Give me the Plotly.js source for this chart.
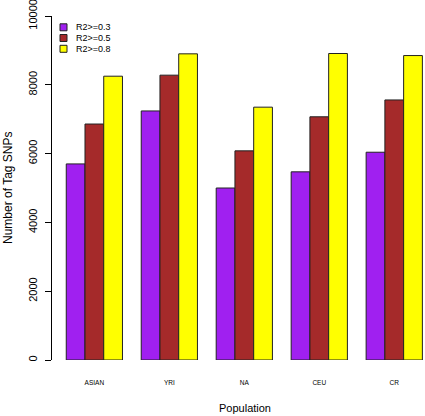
<!DOCTYPE html>
<html><head><meta charset="utf-8">
<script src="https://cdn.plot.ly/plotly-3.0.1.min.js"></script>
<style>body{margin:0;padding:0;background:#fff}#chart{width:425px;height:416px}</style>
</head><body><div id="chart"></div>
<script>
var categories = ["ASIAN", "YRI", "NA", "CEU", "CR"];
var seriesNames = ["R2>=0.3", "R2>=0.5", "R2>=0.8"];
var r03 = [5700, 7240, 5000, 5470, 6040];
var r05 = [6860, 8280, 6080, 7070, 7560];
var r08 = [8250, 8900, 7350, 8910, 8850];
var yTicks = [0, 2000, 4000, 6000, 8000, 10000];
var colors = ["#A020F0", "#A52A2A", "#FFFF00"];

var FONT = "Liberation Sans, Arial, Helvetica, sans-serif";
var values = [r03, r05, r08];
var traces = values.map(function (v, i) {
  return {
    type: "bar", x: categories, y: v, name: seriesNames[i],
    marker: {color: colors[i], line: {color: "#222", width: 1}},
    showlegend: false, hoverinfo: "skip"
  };
});

var W = 373; // plot width px
var shapes = [], annotations = [];
var legY = [27.3, 38.0, 48.8];
seriesNames.forEach(function (n, i) {
  var cy = legY[i];
  shapes.push({type: "rect", xref: "paper", yref: "paper",
    x0: (60 - 52) / W, x1: (67 - 52) / W,
    y0: 1 - (cy + 3.5 - 16) / 344, y1: 1 - (cy - 3.5 - 16) / 344,
    fillcolor: colors[i], line: {color: "#222", width: 1}});
  annotations.push({xref: "paper", yref: "paper", x: (74 - 52) / W,
    y: 1 - (cy - 16) / 344, xanchor: "left", yanchor: "middle",
    text: n, showarrow: false, font: {family: FONT, size: 9, color: "#000"}});
});
annotations.push({xref: "paper", yref: "paper", x: (244.5 - 52) / W, y: -(408 - 360) / 344,
  xanchor: "center", yanchor: "middle", text: "Population", showarrow: false,
  font: {family: FONT, size: 11, color: "#000"}});
annotations.push({xref: "paper", yref: "paper", x: -(52 - 8) / W, y: 1 - (188 - 16) / 344,
  xanchor: "center", yanchor: "middle", textangle: -90, text: "Number of Tag SNPs", showarrow: false,
  font: {family: FONT, size: 12, color: "#000"}});

var layout = {
  width: 425, height: 416,
  margin: {l: 52, r: 0, t: 16, b: 56, pad: 0},
  paper_bgcolor: "#fff", plot_bgcolor: "#fff",
  barmode: "group", bargap: 0.25, bargroupgap: 0,
  font: {family: FONT, color: "#000"},
  xaxis: {type: "category", range: [-0.565, 4.41], showline: false, showgrid: false, zeroline: false,
    ticks: "outside", ticklen: 16, tickcolor: "rgba(0,0,0,0)",
    tickfont: {family: FONT, size: 6.5, color: "#000"}, fixedrange: true},
  yaxis: {range: [0, 10000], tickvals: yTicks, ticktext: yTicks.map(String),
    showline: true, linecolor: "#000", linewidth: 1, showgrid: false, zeroline: false,
    ticks: "outside", ticklen: 6, tickcolor: "#000", tickwidth: 1, tickangle: -90,
    ticklabelstandoff: 4, ticklabeloverflow: "allow",
    tickfont: {family: FONT, size: 11, color: "#000"}, fixedrange: true},
  shapes: shapes, annotations: annotations, showlegend: false
};
Plotly.newPlot("chart", traces, layout, {staticPlot: true, displayModeBar: false});
</script></body></html>
